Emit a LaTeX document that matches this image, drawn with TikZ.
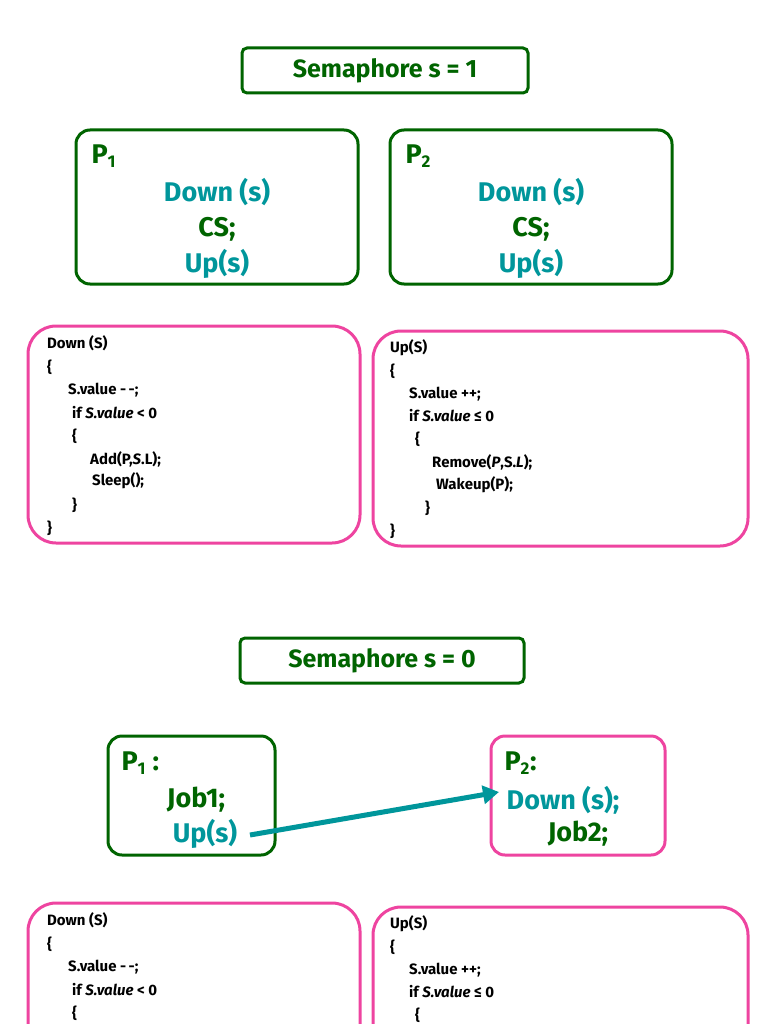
\documentclass[tikz,border=0pt]{standalone}
\usepackage{fontspec}
\setmainfont{Fira Sans}
\usetikzlibrary{arrows.meta}
\definecolor{dkgreen}{RGB}{0,100,0}
\definecolor{semteal}{RGB}{0,150,155}
\definecolor{sempink}{RGB}{238,68,160}
\tikzset{
  gbox/.style={draw=dkgreen,line width=3pt,rounded corners=14pt},
  pbox/.style={draw=sempink,line width=3pt,rounded corners=28pt},
  titlebox/.style={draw=dkgreen,line width=3pt,rounded corners=5pt},
  big/.style={font=\fontsize{27}{30}\selectfont\bfseries},
  gtxt/.style={big,text=dkgreen},
  ttxt/.style={big,text=semteal},
  code/.style={anchor=west,inner sep=0pt,font=\fontsize{15}{17}\selectfont\bfseries}
}
\newcommand\sub[1]{\textsubscript{\fontsize{17}{18}\selectfont #1}}
% first five lines of each block
\newcommand\downtop{%
  \node[code] (d1) at (47,343) {Down (S)};
  \node[code] (d2) at (47,367) {\{};
  \node[code] (d3) at (68,390) {S.value -\,-;};
  \node[code] (d4) at (72,413) {if \textit{S.value} < 0};
  \node[code] (d5) at (72,436) {\{};
}
\newcommand\downrest{%
  \node[code] (d6) at (90,459) {Add(P,\textit{S}.L);};
  \node[code] (d7) at (92,481) {Sleep();};
  \node[code] (d8) at (72,505) {\}};
  \node[code] (d9) at (47,528) {\}};
}
\newcommand\uptop{%
  \node[code] (u1) at (390,348) {Up(S)};
  \node[code] (u2) at (390,371) {\{};
  \node[code] (u3) at (409,394) {S.value ++;};
  \node[code] (u4) at (409,416) {if \textit{S.value} ≤ 0};
  \node[code] (u5) at (415,439) {\{};
}
\newcommand\uprest{%
  \node[code] (u6) at (432,462) {Remove(\textit{P},S.\textit{L});};
  \node[code] (u7) at (436,485) {Wakeup(P);};
  \node[code] (u8) at (425,508) {\}};
  \node[code] (u9) at (390,531) {\}};
}
\begin{document}
\begin{tikzpicture}[x=1pt,y=-1pt]
  \useasboundingbox (0,0) rectangle (768,1024);
  \clip (0,0) rectangle (768,1024);
  % semaphore s = 1
  \draw[titlebox] (242,48) rectangle (528,93);
  \node[text=dkgreen,font=\fontsize{25}{28}\selectfont\bfseries] (t1) at (385,71) {Semaphore s = 1};
  \draw[gbox] (76,130) rectangle (358,284);
  \draw[gbox] (390,130) rectangle (672,284);
  \node[gtxt,anchor=west] (p1) at (88,156) {P\sub{1}};
  \node[ttxt] (p1a) at (217,192) {Down (s)};
  \node[gtxt] (p1b) at (217,229) {CS;};
  \node[ttxt] (p1c) at (217,264) {Up(s)};
  \node[gtxt,anchor=west] (p2) at (402,156) {P\sub{2}};
  \node[ttxt] (p2a) at (531,192) {Down (s)};
  \node[gtxt] (p2b) at (531,229) {CS;};
  \node[ttxt] (p2c) at (531,264) {Up(s)};
  \draw[pbox] (28,326) rectangle (360,543);
  \draw[pbox] (373,331) rectangle (748,546);
  \downtop \downrest
  \uptop \uprest
  % semaphore s = 0
  \draw[titlebox] (240,638) rectangle (524,683);
  \node[text=dkgreen,font=\fontsize{25}{28}\selectfont\bfseries] (t0) at (382,661) {Semaphore s = 0};
  \draw[gbox] (108,736) rectangle (275,855);
  \draw[pbox,rounded corners=14pt] (491,736) rectangle (665,855);
  \node[gtxt,anchor=west] (q1) at (118,763) {P\sub{1} :};
  \node[gtxt] (q1a) at (196,800) {Job1;};
  \node[ttxt] (q1b) at (205,834) {Up(s)};
  \node[gtxt,anchor=west] (q2) at (501,763) {P\sub{2}:};
  \node[ttxt] (q2a) at (563,800) {Down (s);};
  \node[gtxt] (q2b) at (578,834) {Job2;};
  \coordinate (arrs) at (250,835);
  \coordinate (arre) at (499,792);
  \draw[semteal,line width=5pt,-{Triangle[length=16pt,width=18pt]}] (arrs) -- (arre);
  \begin{scope}[yshift=-577pt]
    \draw[pbox] (28,326) rectangle (360,543);
    \downtop
  \end{scope}
  \begin{scope}[yshift=-576pt]
    \draw[pbox] (373,331) rectangle (748,546);
    \uptop
  \end{scope}
\end{tikzpicture}
\end{document}
